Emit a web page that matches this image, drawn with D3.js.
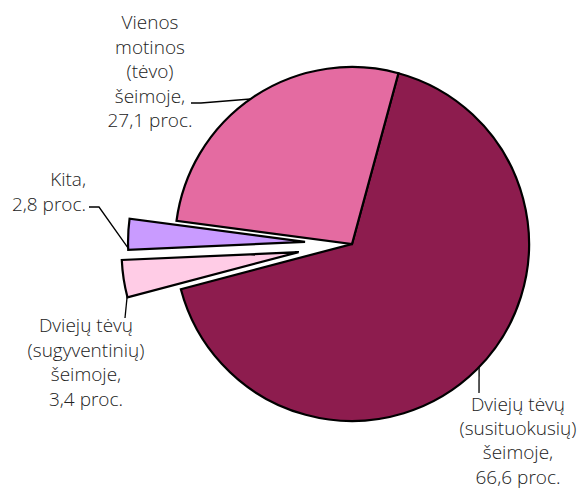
<!DOCTYPE html>
<html><head><meta charset="utf-8">
<script src="https://cdn.jsdelivr.net/npm/d3@7"></script>
<style>
html,body{margin:0;padding:0;background:#fff;}
svg text{font-family:"Open Sans","Noto Sans",sans-serif;font-weight:300;font-size:19px;fill:#222;}
</style></head>
<body>
<svg id="c" width="577" height="490"></svg>
<script>
// Data (order as drawn clockwise from the top boundary)
const categories = [
  "Dviejų tėvų (susituokusių) šeimoje",
  "Dviejų tėvų (sugyventinių) šeimoje",
  "Kita",
  "Vienos motinos (tėvo) šeimoje"
];
const values = [66.6, 3.4, 2.8, 27.1];
const labelLines = [
  ["Dviejų tėvų", "(susituokusių)", "šeimoje,", "66,6 proc."],
  ["Dviejų tėvų", "(sugyventinių)", "šeimoje,", "3,4 proc."],
  ["Kita,", "2,8 proc."],
  ["Vienos", "motinos", "(tėvo)", "šeimoje,", "27,1 proc."]
];
const colors = ["#8D1C4E", "#FFCCE6", "#C99BFF", "#E46BA1"];

const svg = d3.select("#c");
const cx = 352, cy = 244, R = 177;
const explode = [0, 54, 47, 0];
const start = 15.2 * Math.PI / 180;

const pie = d3.pie().sort(null).value(d => d).startAngle(start).endAngle(start + 2 * Math.PI);
const arcs = pie(values);
const arc = d3.arc().innerRadius(0).outerRadius(R);

const g = svg.append("g").attr("transform", `translate(${cx},${cy})`);
function offs(d, i) {
  const m = (d.startAngle + d.endAngle) / 2;
  return [Math.sin(m) * explode[i], -Math.cos(m) * explode[i]];
}
g.selectAll("path.slice").data(arcs).join("path")
  .attr("class", "slice")
  .attr("d", arc)
  .attr("transform", (d, i) => { const o = offs(d, i); return `translate(${o[0]},${o[1]})`; })
  .attr("fill", (d, i) => colors[i])
  .attr("stroke", "#000")
  .attr("stroke-width", 2.2)
  .attr("stroke-linejoin", "miter");

// Label layout
const labelPos = [
  {x: 518, y: 411, anchor: "middle", lh: 24.2},
  {x: 86, y: 332, anchor: "middle", lh: 24.6},
  {x: 86, y: 186, anchor: "end", lh: 24.6},
  {x: 150, y: 29, anchor: "middle", lh: 24.6}
];
labelLines.forEach((lines, i) => {
  const p = labelPos[i];
  const t = svg.append("text")
    .attr("x", p.x).attr("y", p.y)
    .attr("text-anchor", p.anchor);
  lines.forEach((s, j) => {
    t.append("tspan").attr("x", p.x).attr("y", p.y + j * p.lh).text(s);
  });
});

// Leader lines: angle on the slice edge + elbow points
function edge(i, angDeg, r) {
  const a = angDeg * Math.PI / 180;
  const o = offs(arcs[i], i);
  return [cx + o[0] + Math.sin(a) * r, cy + o[1] - Math.cos(a) * r];
}
const leaders = [
  [edge(0, 134.1, R), [479, 393]],
  [edge(1, 255.6, R), [125, 318]],
  [[89, 207], [99, 207], edge(2, 268, R)],
  [[191, 103], [201, 103], edge(3, 325, R)]
];
leaders.forEach(pts => {
  svg.append("path")
    .attr("d", d3.line()(pts))
    .attr("fill", "none").attr("stroke", "#000").attr("stroke-width", 1.3);
});
</script>
</body></html>
